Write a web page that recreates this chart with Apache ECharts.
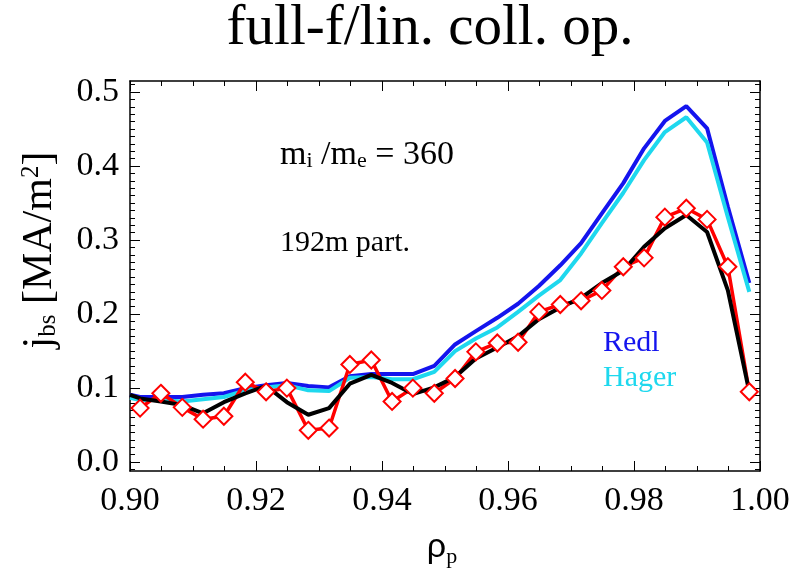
<!DOCTYPE html>
<html>
<head>
<meta charset="utf-8">
<script src="https://cdn.jsdelivr.net/npm/echarts@6/dist/echarts.min.js"></script>
<style>
  html, body { margin: 0; padding: 0; background: #fff; }
  #chart { width: 807px; height: 568px; }
</style>
</head>
<body>
<div id="chart"></div>
<script>
// rho_p grid of the simulation points
const rho = [0.9016, 0.9049, 0.9083, 0.9116, 0.9149, 0.9183, 0.9216, 0.9249, 0.9283, 0.9316,
  0.9349, 0.9383, 0.9416, 0.9449, 0.9483, 0.9516, 0.9549, 0.9583, 0.9616, 0.9649,
  0.9683, 0.9716, 0.9749, 0.9783, 0.9816, 0.9849, 0.9883, 0.9916, 0.9949, 0.9983]
// the smooth curves also start at the left edge
const rhoLine = [0.9].concat(rho)

const redl = [0.091, 0.088, 0.088, 0.088, 0.091, 0.093, 0.100, 0.104, 0.107, 0.103, 0.101,
  0.116, 0.119, 0.119, 0.119, 0.130, 0.159, 0.177, 0.195, 0.214, 0.238,
  0.266, 0.296, 0.336, 0.377, 0.424, 0.461, 0.481, 0.451, 0.345, 0.242]
const hager = [0.087, 0.084, 0.084, 0.082, 0.085, 0.088, 0.097, 0.101, 0.104, 0.097, 0.096,
  0.114, 0.115, 0.112, 0.112, 0.122, 0.150, 0.167, 0.182, 0.203, 0.225,
  0.246, 0.282, 0.323, 0.364, 0.408, 0.446, 0.466, 0.432, 0.331, 0.230]
const smooth = [0.091, 0.086, 0.082, 0.077, 0.066, 0.081, 0.093, 0.103, 0.081, 0.064, 0.073,
  0.106, 0.118, 0.107, 0.092, 0.101, 0.115, 0.140, 0.155, 0.170, 0.193,
  0.209, 0.222, 0.242, 0.259, 0.291, 0.316, 0.334, 0.311, 0.232, 0.095]
const fullF = [0.073, 0.093, 0.074, 0.058, 0.062, 0.108, 0.095, 0.100, 0.043, 0.046,
  0.132, 0.138, 0.082, 0.100, 0.093, 0.113, 0.149, 0.161, 0.162, 0.203,
  0.213, 0.218, 0.232, 0.264, 0.276, 0.331, 0.343, 0.328, 0.264, 0.095]

const xMajor = [0.90, 0.92, 0.94, 0.96, 0.98, 1.00]
const yMajor = [0.0, 0.1, 0.2, 0.3, 0.4, 0.5]
const xMinor = []
for (let i = 0; i <= 20; i++) xMinor.push(+(0.9 + i * 0.005).toFixed(3))
const yMinor = []
for (let i = -1; i <= 51; i++) yMinor.push(+(i * 0.01).toFixed(2))

const X_MIN = 0.9
const X_MAX = 1.0
const Y_MIN = -0.012
const Y_MAX = 0.515
const serif = 'Liberation Serif'

function pairs(xs, ys) {
  return xs.map((x, i) => [x, ys[i]])
}

function axis(kind, position, ticks, len, main, labels) {
  const a = {
    type: 'value',
    position: position,
    min: kind === 'x' ? X_MIN : Y_MIN,
    max: kind === 'x' ? X_MAX : Y_MAX,
    axisLine: { show: main, onZero: false, lineStyle: { color: '#000', width: 1.5 } },
    axisTick: { show: true, inside: true, length: len, customValues: ticks, lineStyle: { color: '#000', width: 1 } },
    axisLabel: { show: false },
    splitLine: { show: false }
  }
  if (labels) {
    a.axisLabel = {
      show: true,
      customValues: labels,
      formatter: v => v.toFixed(kind === 'x' ? 2 : 1),
      fontFamily: serif,
      fontSize: 34,
      color: '#000',
      margin: kind === 'x' ? 13 : 11
    }
  }
  return a
}

const chart = echarts.init(document.getElementById('chart'))
chart.setOption({
  backgroundColor: '#ffffff',
  animation: false,
  grid: { left: 130, right: 47, top: 81, bottom: 97 },
  xAxis: [
    axis('x', 'bottom', xMajor, 10, true, xMajor),
    axis('x', 'bottom', xMinor, 5, false),
    axis('x', 'top', xMajor, 10, true),
    axis('x', 'top', xMinor, 5, false)
  ],
  yAxis: [
    axis('y', 'left', yMajor, 10, true, yMajor),
    axis('y', 'left', yMinor, 5, false),
    axis('y', 'right', yMajor, 10, true),
    axis('y', 'right', yMinor, 5, false)
  ],
  series: [
    {
      name: 'Redl',
      type: 'line',
      data: pairs(rhoLine, redl),
      symbol: 'none',
      lineStyle: { color: '#1414ee', width: 4 }
    },
    {
      name: 'Hager',
      type: 'line',
      data: pairs(rhoLine, hager),
      symbol: 'none',
      lineStyle: { color: '#1ed8ee', width: 4 }
    },
    {
      name: 'full-f',
      type: 'line',
      data: pairs(rho, fullF),
      symbol: 'emptyDiamond',
      symbolSize: 17,
      itemStyle: { color: '#ff0000', borderWidth: 3.5 },
      lineStyle: { color: '#ff0000', width: 3.5 }
    },
    {
      name: 'smooth',
      type: 'line',
      data: pairs(rhoLine, smooth),
      symbol: 'none',
      lineStyle: { color: '#000000', width: 4 }
    }
  ],
  graphic: [
    {
      type: 'text', x: 430, y: 29,
      style: { text: 'full-f/lin. coll. op.', font: '57px "Liberation Serif"', fill: '#000', textAlign: 'center', textVerticalAlign: 'middle' }
    },
    {
      type: 'text', x: 280, y: 155,
      style: {
        text: 'm{s|i} /m{s|e} = 360',
        font: '34px "Liberation Serif"', fill: '#000', textAlign: 'left', textVerticalAlign: 'middle',
        rich: { s: { fontSize: 22, fontFamily: serif, fill: '#000', lineHeight: 22, verticalAlign: 'bottom' } }
      }
    },
    {
      type: 'text', x: 280, y: 243,
      style: { text: '192m part.', font: '30px "Liberation Serif"', fill: '#000', textAlign: 'left', textVerticalAlign: 'middle' }
    },
    {
      type: 'text', x: 603, y: 343,
      style: { text: 'Redl', font: '30px "Liberation Serif"', fill: '#1414ee', textAlign: 'left', textVerticalAlign: 'middle' }
    },
    {
      type: 'text', x: 603, y: 378,
      style: { text: 'Hager', font: '30px "Liberation Serif"', fill: '#1ed8ee', textAlign: 'left', textVerticalAlign: 'middle' }
    },
    {
      type: 'text', x: 40, y: 250, rotation: Math.PI / 2,
      style: {
        text: 'j{s|bs} [MA/m{p|2}]',
        font: '42px "Liberation Serif"', fill: '#000', textAlign: 'center', textVerticalAlign: 'middle',
        rich: {
          s: { fontSize: 25, fontFamily: serif, fill: '#000', lineHeight: 25, verticalAlign: 'bottom' },
          p: { fontSize: 25, fontFamily: serif, fill: '#000', lineHeight: 25, verticalAlign: 'top' }
        }
      }
    },
    {
      type: 'text', x: 442, y: 548,
      style: {
        text: '{r|ρ}{s|p}',
        textAlign: 'center', textVerticalAlign: 'middle',
        rich: {
          r: { fontSize: 34, fontFamily: 'Liberation Sans', fill: '#000', lineHeight: 40 },
          s: { fontSize: 22, fontFamily: serif, fill: '#000', lineHeight: 24, verticalAlign: 'bottom' }
        }
      }
    }
  ]
})
</script>
</body>
</html>
